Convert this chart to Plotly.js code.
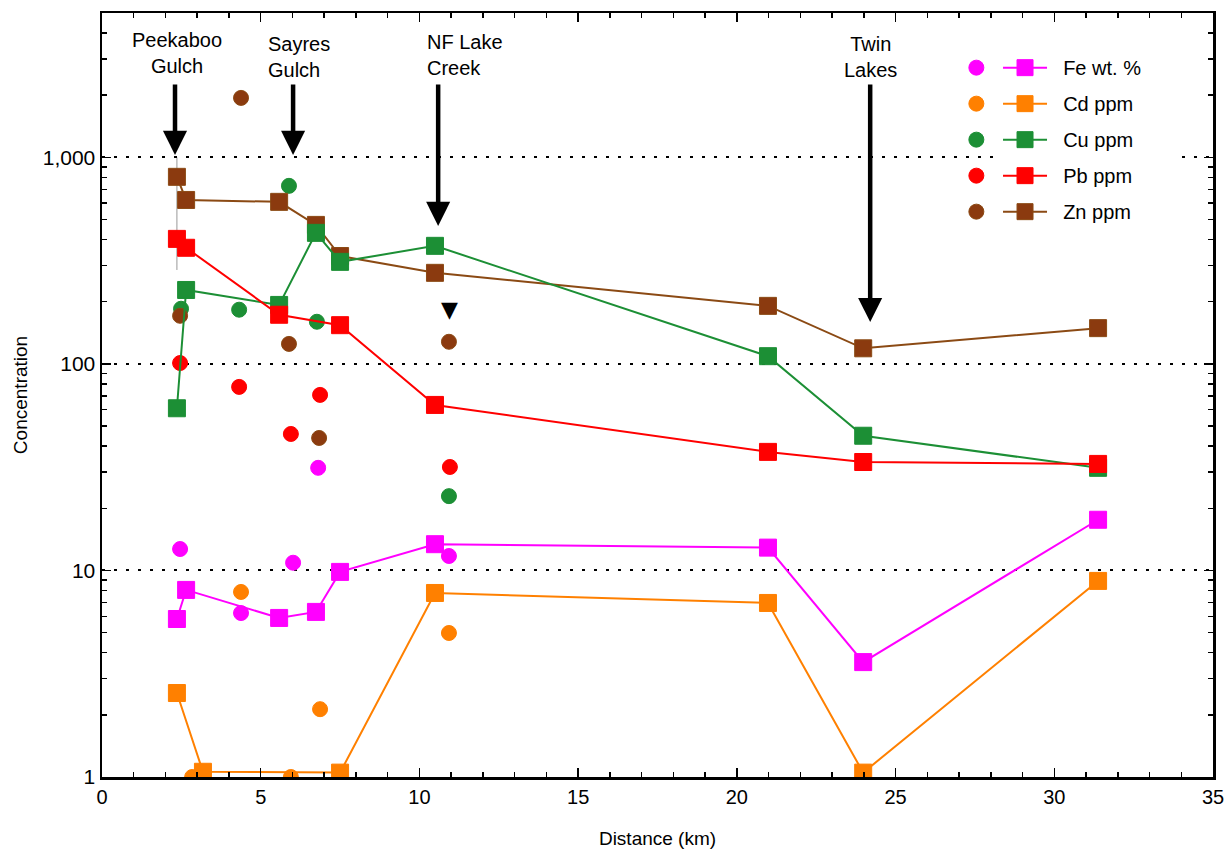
<!DOCTYPE html>
<html>
<head>
<meta charset="utf-8">
<script src="https://cdn.plot.ly/plotly-3.0.1.min.js"></script>
<style>html,body{margin:0;padding:0;background:#fff;}#chart{width:1229px;height:850px;}</style>
</head>
<body>
<div id="chart"></div>
<script>
// Main-stem samples (squares joined by lines), distance in km
var distKm = [2.36, 2.65, 3.18, 5.58, 6.74, 7.50, 10.49, 20.98, 23.98, 31.38];
var feMain = [5.82, 8.05, null, 5.89, 6.30, 9.84, 13.4, 12.9, 3.6, 17.6];
var cdMain = [2.55, null, 1.06, null, null, 1.05, 7.78, 6.96, 1.05, 8.9];
var cuMain = [61, 228, null, 193, 431, 312, 373, 109, 44.9, 31.4];
var pbMain = [403, 365, null, 173, null, 154, 63.3, 37.5, 33.5, 32.8];
var znMain = [805, 622, null, 609, 471, 333, 276, 191, 119, 149];

// Tributary samples (circles)
var feTribKm = [2.46, 4.38, 6.02, 6.81, 10.93];
var feTrib = [12.7, 6.22, 10.9, 31.4, 11.75];
var cdTribKm = [2.84, 4.38, 5.95, 6.87, 10.93];
var cdTrib = [1.0, 7.87, 1.0, 2.13, 4.98];
var cuTribKm = [2.49, 4.32, 5.89, 6.77, 10.93];
var cuTrib = [185, 183, 728, 160, 22.9];
var pbTribKm = [2.46, 4.32, 5.95, 6.87, 10.96];
var pbTrib = [101, 77.4, 45.8, 70.8, 31.7];
var znTribKm = [2.46, 4.38, 5.89, 6.84, 10.93];
var znTrib = [171, 1941, 125, 43.8, 128];

var seriesNames = ["Fe wt. %", "Cd ppm", "Cu ppm", "Pb ppm", "Zn ppm"];
var yTickVals = [1, 10, 100, 1000];
var yTickText = ["1", "10", "100", "1,000"];

var colors = {
  fe: {fill: "#FF00FF", line: "#FF00FF"},
  cd: {fill: "#FF8000", line: "#FF8000"},
  cu: {fill: "#1C8F35", line: "#1C8F35"},
  pb: {fill: "#FF0000", line: "#FF0000"},
  zn: {fill: "#8B3A0F", line: "#8B4A14"}
};

var FONT = "Arial, 'Liberation Sans', sans-serif";
var PAD = "\u00a0\u00a0";

function mainTrace(key, name, y, rank, tail) {
  return {
    x: distKm, y: y, name: PAD + name + (tail || ""), type: "scatter", mode: "lines+markers",
    connectgaps: true,
    line: {color: colors[key].line, width: 2},
    marker: {symbol: "square", size: 17, color: colors[key].fill, line: {color: colors[key].line, width: 1}},
    legend: "legend", legendgroup: key + "L", legendrank: rank, hoverinfo: "x+y+name"
  };
}
function tribTrace(key, name, x, y, rank) {
  return {
    x: x, y: y, name: "", type: "scatter", mode: "markers",
    marker: {symbol: "circle", size: 15, color: colors[key].fill, line: {color: colors[key].line, width: 1}},
    legend: "legend2", legendgroup: key + "C", legendrank: rank, hovertext: name, hoverinfo: "x+y+text"
  };
}

var data = [
  tribTrace("fe", seriesNames[0], feTribKm, feTrib, 1),
  tribTrace("cd", seriesNames[1], cdTribKm, cdTrib, 2),
  tribTrace("cu", seriesNames[2], cuTribKm, cuTrib, 3),
  tribTrace("pb", seriesNames[3], pbTribKm, pbTrib, 4),
  tribTrace("zn", seriesNames[4], znTribKm, znTrib, 5),
  mainTrace("zn", seriesNames[4], znMain, 5),
  mainTrace("cu", seriesNames[2], cuMain, 3),
  mainTrace("pb", seriesNames[3], pbMain, 4),
  mainTrace("cd", seriesNames[1], cdMain, 2),
  mainTrace("fe", seriesNames[0], feMain, 1, "\u00a0\u00a0\u00a0\u00a0\u00a0")
];

var minorY = [];
[1, 10, 100, 1000].forEach(function (d) { for (var k = 2; k <= 9; k++) { if (d * k < 5000) minorY.push(d * k); } });

function arrow(xk, ylog, ay) {
  return {x: xk, y: ylog, xref: "x", yref: "y", text: "", showarrow: true,
    arrowhead: 2, arrowwidth: 4.5, arrowsize: 1.07, arrowcolor: "#000", ax: 0, ay: ay, standoff: 0};
}
function label(xk, ypaper, text, anchor) {
  return {x: xk, y: ypaper, xref: "x", yref: "paper", text: text, showarrow: false,
    xanchor: anchor, yanchor: "middle", align: anchor === "center" ? "center" : "left",
    font: {family: FONT, size: 20, color: "#000"}};
}

var layout = {
  width: 1229, height: 850,
  margin: {l: 102, r: 16, t: 13, b: 73},
  paper_bgcolor: "#fff", plot_bgcolor: "#fff",
  font: {family: FONT, size: 19, color: "#000"},
  showlegend: true,
  xaxis: {
    range: [0, 35], tick0: 0, dtick: 5, ticks: "inside", ticklen: 9, tickwidth: 1.5, tickcolor: "#000",
    showline: true, linewidth: 2.5, linecolor: "#000", mirror: "ticks",
    showgrid: false, zeroline: false,
    minor: {dtick: 1, ticks: "inside", ticklen: 5, tickwidth: 1.5, tickcolor: "#000", showgrid: false},
    tickfont: {family: FONT, size: 20},
    title: {text: "Distance (km)", font: {family: FONT, size: 19}, standoff: 25}
  },
  yaxis: {
    type: "log", range: [0, Math.log10(5000)],
    tickmode: "array", tickvals: yTickVals, ticktext: yTickText,
    ticks: "inside", ticklen: 9, tickwidth: 1.5, tickcolor: "#000",
    showline: true, linewidth: 2.5, linecolor: "#000", mirror: "ticks",
    showgrid: true, gridcolor: "#000", gridwidth: 2, griddash: "3px,9px",
    zeroline: false,
    minor: {tickmode: "array", tickvals: minorY, ticks: "inside", ticklen: 5, tickwidth: 1.5, tickcolor: "#000", showgrid: false},
    tickfont: {family: FONT, size: 21},
    title: {text: "Concentration", font: {family: FONT, size: 19}, standoff: 10}
  },
  legend: {
    x: 0.8065, y: 0.954, xanchor: "left", yanchor: "top",
    bgcolor: "#fff", borderwidth: 0, font: {family: FONT, size: 20},
    traceorder: "grouped", tracegroupgap: 7, itemwidth: 44
  },
  legend2: {
    x: 0.769, y: 0.954, xanchor: "left", yanchor: "top",
    bgcolor: "rgba(0,0,0,0)", borderwidth: 0, font: {family: FONT, size: 20},
    traceorder: "grouped", tracegroupgap: 7
  },
  shapes: [
    {type: "line", xref: "x", yref: "y", x0: distKm[0], x1: distKm[0], y0: 285, y1: 1000,
     line: {color: "#999", width: 1}, layer: "below"}
  ],
  annotations: [
    arrow(2.30, 3.012, -72),
    arrow(6.02, 3.012, -72),
    arrow(10.59, 2.668, -143),
    arrow(24.2, 2.203, -239),
    {x: 10.96, y: 2.265, xref: "x", yref: "y", text: "▼", showarrow: false,
     font: {family: "DejaVu Sans", size: 22, color: "#000"}},
    label(2.36, 0.9476, "Peekaboo<br>Gulch", "center"),
    label(5.17, 0.942, "Sayres<br>Gulch", "left"),
    label(10.18, 0.945, "NF Lake<br>Creek", "left"),
    label(24.2, 0.943, "Twin<br>Lakes", "center")
  ]
};

Plotly.newPlot("chart", data, layout, {displayModeBar: false, staticPlot: true});
</script>
</body>
</html>
